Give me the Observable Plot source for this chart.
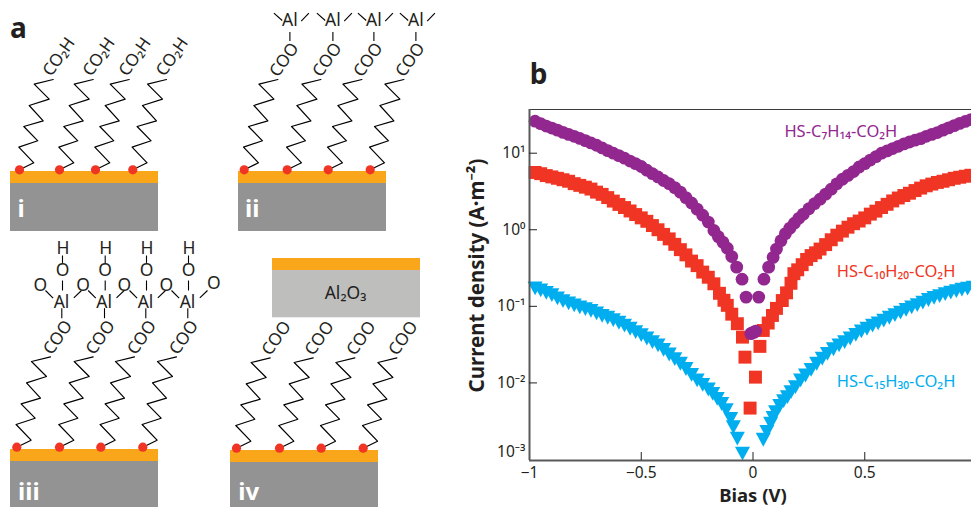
<!DOCTYPE html>
<html><head><meta charset="utf-8">
<script src="https://cdn.jsdelivr.net/npm/d3@7"></script>
<script src="https://cdn.jsdelivr.net/npm/@observablehq/plot@0.6"></script>
<style>
html,body{margin:0;padding:0;background:#fff;overflow:hidden}
#wrap{position:relative;width:971px;height:507px;overflow:hidden}
#wrap svg{position:absolute;left:0;top:0;max-width:none}
</style></head><body><div id="wrap"></div>
<script>
// ---- panel b data: bias (V) and current density (A/m2)
const purpleBias=[-0.975,-0.95,-0.925,-0.9,-0.875,-0.85,-0.825,-0.8,-0.775,-0.75,-0.725,-0.7,-0.675,-0.65,-0.625,-0.6,-0.575,-0.55,-0.525,-0.5,-0.475,-0.45,-0.425,-0.4,-0.375,-0.35,-0.325,-0.3,-0.275,-0.25,-0.225,-0.2,-0.175,-0.155,-0.135,-0.115,-0.095,-0.073,-0.049,-0.031,-0.01,-0.004,0.006,0.012,0.0255,0.049,0.07,0.09,0.105,0.125,0.145,0.165,0.185,0.205,0.225,0.25,0.275,0.3,0.325,0.35,0.375,0.4,0.425,0.45,0.475,0.5,0.525,0.55,0.575,0.6,0.625,0.65,0.675,0.7,0.725,0.75,0.775,0.8,0.825,0.85,0.875,0.9,0.925,0.95,0.975];
const purpleJ=[26.2,24.3,22.6,21.3,20,18.7,17.6,16.6,15.6,14.6,13.6,12.7,11.7,10.8,10,9.3,8.6,7.9,7.3,6.7,6,5.4,4.9,4.4,4,3.55,3.1,2.63,2.24,1.86,1.55,1.26,0.98,0.81,0.69,0.575,0.447,0.325,0.226,0.132,0.0439,0.045,0.046,0.0475,0.132,0.226,0.325,0.436,0.56,0.72,0.89,1.05,1.22,1.41,1.6,1.88,2.19,2.51,2.92,3.39,3.98,4.57,5.13,5.75,6.6,7.3,8.13,9,10,10.7,11.5,12.3,13.2,14,14.8,15.5,16.6,17.6,18.6,20,21.4,22.9,24.5,26,27.5];
const redBias=[-0.975,-0.95,-0.925,-0.9,-0.875,-0.85,-0.825,-0.8,-0.775,-0.75,-0.725,-0.7,-0.675,-0.65,-0.625,-0.6,-0.575,-0.55,-0.525,-0.5,-0.475,-0.45,-0.425,-0.4,-0.375,-0.35,-0.325,-0.3,-0.275,-0.25,-0.225,-0.2,-0.175,-0.15,-0.13,-0.115,-0.095,-0.07,-0.047,-0.036,-0.013,0.011,0.031,0.046,0.068,0.087,0.105,0.131,0.15,0.17,0.183,0.2,0.22,0.24,0.26,0.28,0.3,0.325,0.35,0.375,0.4,0.425,0.45,0.475,0.5,0.525,0.55,0.575,0.6,0.625,0.65,0.675,0.7,0.725,0.75,0.775,0.8,0.825,0.85,0.875,0.9,0.925,0.95,0.975];
const redJ=[5.6,5.4,5.1,4.9,4.7,4.5,4.3,4,3.8,3.6,3.4,3.1,2.9,2.63,2.37,2.14,1.95,1.76,1.58,1.43,1.29,1.135,1,0.87,0.76,0.645,0.55,0.47,0.39,0.34,0.28,0.24,0.197,0.148,0.12,0.103,0.079,0.0593,0.0396,0.0217,0.00469,0.0119,0.03,0.0484,0.0605,0.076,0.094,0.119,0.15,0.2,0.267,0.3,0.35,0.41,0.46,0.5,0.56,0.64,0.74,0.85,0.96,1.08,1.2,1.3,1.43,1.6,1.75,1.95,2.15,2.38,2.6,2.8,3,3.25,3.5,3.75,3.95,4.15,4.3,4.5,4.7,4.85,5,5.15];
const blueBias=[-0.975,-0.95,-0.925,-0.9,-0.875,-0.85,-0.825,-0.8,-0.775,-0.75,-0.725,-0.7,-0.675,-0.65,-0.625,-0.6,-0.575,-0.55,-0.525,-0.5,-0.475,-0.45,-0.425,-0.4,-0.375,-0.35,-0.325,-0.3,-0.275,-0.25,-0.225,-0.2,-0.18,-0.16,-0.14,-0.12,-0.1,-0.088,-0.07,-0.047,0.046,0.062,0.079,0.09,0.101,0.12,0.137,0.154,0.17,0.19,0.213,0.235,0.26,0.285,0.31,0.333,0.36,0.385,0.41,0.435,0.46,0.485,0.51,0.535,0.56,0.585,0.61,0.635,0.66,0.685,0.71,0.735,0.76,0.785,0.81,0.835,0.86,0.885,0.91,0.935,0.96,0.985];
const blueJ=[0.172,0.162,0.15,0.14,0.127,0.117,0.109,0.103,0.097,0.092,0.087,0.081,0.075,0.071,0.066,0.061,0.056,0.051,0.046,0.042,0.038,0.034,0.031,0.027,0.0235,0.0205,0.0178,0.0152,0.0127,0.0108,0.0094,0.0082,0.0072,0.0062,0.0053,0.0044,0.0034,0.00265,0.00187,0.00119,0.00181,0.0023,0.00293,0.0035,0.00416,0.005,0.0058,0.00653,0.0076,0.0088,0.0108,0.0125,0.0148,0.0178,0.0208,0.024,0.0275,0.031,0.034,0.038,0.0425,0.047,0.051,0.056,0.06,0.065,0.071,0.077,0.083,0.09,0.097,0.104,0.112,0.121,0.129,0.136,0.144,0.151,0.158,0.165,0.17,0.176];
const xTicks=[-0.5,0,0.5];
const xLabelValues=[-1,-0.5,0,0.5];
const xTickLabels=["\u22121","\u22120.5","0","0.5"];
const yTicks=[10,1,0.1,0.01];
const yLabelValues=[10,1,0.1,0.01];
const yTickLabels=["10\u00B9","10\u2070","10\u207B\u00B9","10\u207B\u00B2"];

// ---- panel a schematic
const chainStepX=[0,14.3,-0.7,18.3,4.3,23.7,9.7,29.7,14.7,33.7];
const chainStepY=[0,-7,-22.7,-29,-43.3,-49,-64.3,-70.7,-85.7,-90.3];
const anchorsI=[19,59,95,132.3];
const anchorsII=[243.7,286.7,327.7,369.7];
const anchorsIII=[16.3,59,100.3,142.3];
const anchorsIV=[236,279,320.7,362.7];
const rowTopY=169.3, rowIIIY=446.7, rowIVY=447.7;

const orange="#faa61a", grey="#939393", lightGrey="#bebebd", red="#f03524", purple="#92278f", blue="#00aeef", ink="#231f20", axisInk="#58595b";
const fontFamily="'Noto Sans',sans-serif";

const slabs=[
 {x1:10,x2:158,y1:171,y2:183,fill:orange},{x1:10,x2:158,y1:183,y2:231,fill:grey},
 {x1:238,x2:386,y1:171,y2:183,fill:orange},{x1:238,x2:386,y1:183,y2:231,fill:grey},
 {x1:10,x2:158,y1:449,y2:461,fill:orange},{x1:10,x2:158,y1:461,y2:507,fill:grey},
 {x1:230,x2:378,y1:450,y2:462,fill:orange},{x1:230,x2:378,y1:462,y2:507,fill:grey},
 {x1:272,x2:420,y1:258,y2:270,fill:orange},{x1:272,x2:420,y1:270,y2:317.3,fill:lightGrey}
];
const rows=[{xs:anchorsI,y:rowTopY},{xs:anchorsII,y:rowTopY},{xs:anchorsIII,y:rowIIIY},{xs:anchorsIV,y:rowIVY}];
const anchors=rows.flatMap(r=>r.xs.map(x=>({x,y:r.y})));
const chains=anchors.flatMap((a,id)=>chainStepX.map((dx,i)=>({id,x:a.x+dx,y:a.y+chainStepY[i]})));

const textOffset=(xs,y,dx,dy,label)=>xs.map(x=>({x:x+dx,y:y+dy,label}));
const rotatedText=[
 ...textOffset(anchorsI,rowTopY,39.3,-113,"CO\u2082H"),
 ...textOffset(anchorsII,rowTopY,40,-110,"COO"),
 ...textOffset(anchorsIII,rowIIIY,41,-109.7,"COO"),
 ...textOffset(anchorsIV,rowIVY,40,-110,"COO")
];
const atoms=[
 ...textOffset(anchorsII,rowTopY,45.7,-149.3,"Al"),
 ...textOffset(anchorsIII,rowIIIY,44.7,-145,"Al"),
 ...textOffset(anchorsIII,rowIIIY,45.7,-176.7,"O"),
 ...textOffset(anchorsIII,rowIIIY,46.3,-199.3,"H"),
 ...textOffset(anchorsIII,rowIIIY,23.5,-162.3,"O"),
 {x:anchorsIII[3]+71,y:rowIIIY-164.3,label:"O"},
 {x:345,y:292.5,label:"Al\u2082O\u2083"}
];
const bond=(xs,y,x1,y1,x2,y2)=>xs.map(x=>({x1:x+x1,y1:y+y1,x2:x+x2,y2:y+y2}));
const bonds=[
 ...bond(anchorsII,rowTopY,45.7,-137.7,45.7,-128.7),
 ...bond(anchorsII,rowTopY,29.7,-156.7,38,-149.3),
 ...bond(anchorsII,rowTopY,57,-148.7,64.7,-156.7),
 ...bond(anchorsIII,rowIIIY,45,-139,45,-129),
 ...bond(anchorsIII,rowIIIY,45.7,-166.7,45.7,-156.7),
 ...bond(anchorsIII,rowIIIY,45.7,-191.7,45.7,-184.3),
 ...bond(anchorsIII,rowIIIY,28.7,-156.7,36.3,-149),
 ...bond(anchorsIII,rowIIIY,57,-149.3,64.7,-156.7)
];
const panelLetters=[{x:18,y:29,label:"a"},{x:538,y:75,label:"b"}];
const romanLabels=[{x:20.7,y:209,label:"i"},{x:251.7,y:209,label:"ii"},{x:28.3,y:491.7,label:"iii"},{x:248.3,y:492,label:"iv"}];

const schematic=Plot.plot({
 width:971,height:507,margin:0,style:{background:"transparent",fontFamily},
 x:{domain:[0,971],range:[0,971],axis:null},y:{domain:[0,507],range:[0,507],axis:null},
 marks:[
  Plot.rect(slabs,{x1:"x1",x2:"x2",y1:"y1",y2:"y2",fill:"fill"}),
  Plot.line(chains,{x:"x",y:"y",z:"id",stroke:"#000",strokeWidth:1.2,curve:"linear"}),
  Plot.link(bonds,{x1:"x1",y1:"y1",x2:"x2",y2:"y2",stroke:"#000",strokeWidth:1.1}),
  Plot.dot(anchors,{x:"x",y:"y",r:4.6,fill:red}),
  Plot.text(rotatedText,{x:"x",y:"y",text:"label",rotate:-55,fontSize:17,fill:ink}),
  Plot.text(atoms,{x:"x",y:"y",text:"label",fontSize:17.5,fill:ink}),
  Plot.text(romanLabels,{x:"x",y:"y",text:"label",fontSize:24,fontWeight:"bold",fill:"#fff"}),
  Plot.text(panelLetters,{x:"x",y:"y",text:"label",fontSize:28,fontWeight:"bold",fill:ink})
 ]
});

// downward-pointing triangle symbol
const triangleDown={draw(ctx,size){const s=Math.sqrt(size);const w=s*0.72,h=s*0.66;ctx.moveTo(-w,-h);ctx.lineTo(w,-h);ctx.lineTo(0,h);ctx.closePath();}};

const table=(xs,ys)=>xs.map((bias,i)=>({bias,j:ys[i]}));
const yMin=0.00097, yMax=37.2;
const chart=Plot.plot({
 width:971,height:507,margin:0,style:{background:"transparent",fontFamily,color:ink},
 x:{domain:[-1,1],range:[529,976],axis:null},
 y:{type:"log",domain:[yMin,yMax],range:[460,109],axis:null},
 marks:[
  Plot.dot(table(blueBias,blueJ),{x:"bias",y:"j",r:5.9,symbol:triangleDown,fill:blue}),
  Plot.dot(table(redBias,redJ),{x:"bias",y:"j",r:7.3,symbol:"square",fill:red}),
  Plot.dot(table(purpleBias,purpleJ),{x:"bias",y:"j",r:6.4,fill:purple}),
  Plot.ruleY([yMax],{x1:-1,x2:1,stroke:"#3a3a3a",strokeWidth:1.2}),
  Plot.ruleX([-1],{y1:yMin,y2:yMax,stroke:axisInk,strokeWidth:2}),
  Plot.ruleY([yMin],{x1:-1,x2:1,stroke:axisInk,strokeWidth:2}),
  Plot.ruleX(xTicks,{y1:yMin,y2:yMin*Math.pow(10,8/76.6),stroke:"#222"}),
  Plot.ruleY(yTicks,{x1:-1,x2:-1+8/223.5,stroke:"#222"}),
  Plot.text(xLabelValues,{x:d=>d,y:[yMin,yMin,yMin,yMin],dy:12.5,text:(d,i)=>xTickLabels[i],fontSize:15.5,fill:ink}),
  Plot.text(yLabelValues,{x:[-1,-1,-1,-1],y:d=>d,dx:-4,text:(d,i)=>yTickLabels[i],textAnchor:"end",fontSize:15.5,fill:ink}),
  Plot.text(["10\u207B\u00B3"],{x:[-1],y:[0.001],dx:-4,dy:-7,text:d=>d,textAnchor:"end",fontSize:15.5,fill:ink}),
  Plot.text(["HS-C\u2087H\u2081\u2084-CO\u2082H"],{x:[0.393],y:[19.3],text:d=>d,fill:purple,fontSize:16.5}),
  Plot.text(["HS-C\u2081\u2080H\u2082\u2080-CO\u2082H"],{x:[0.64],y:[0.28],text:d=>d,fill:red,fontSize:16.5}),
  Plot.text(["HS-C\u2081\u2085H\u2083\u2080-CO\u2082H"],{x:[0.64],y:[0.0105],text:d=>d,fill:blue,fontSize:16.5}),
  Plot.text(["Bias (V)"],{x:[0],y:[yMin],dy:36,text:d=>d,fontSize:18.5,fontWeight:"bold",fill:ink}),
  Plot.text(["Current density (A\u00B7m\u207B\u00B2)"],{x:[-1],y:[0.253],dx:-52,rotate:-90,text:d=>d,fontSize:20.5,fontWeight:"bold",fill:ink})
 ]
});
const wrap=document.getElementById("wrap");
wrap.append(schematic,chart);
</script></body></html>
